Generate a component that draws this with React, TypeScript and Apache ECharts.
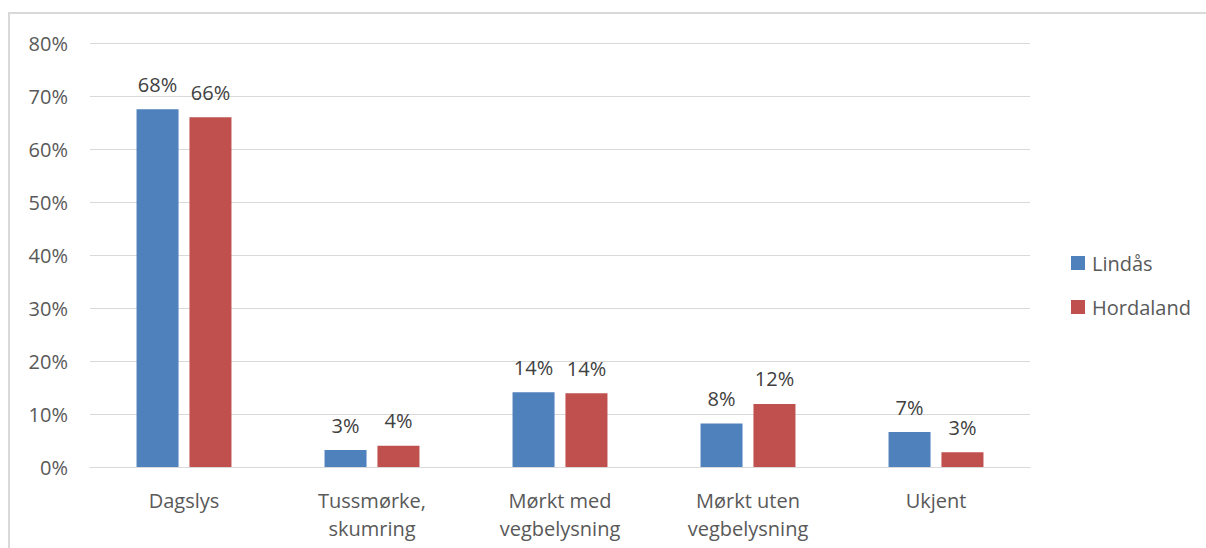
import React, { useEffect, useRef } from "react";
import * as echarts from "echarts";

const categories = ["Dagslys", "Tussmørke,\nskumring", "Mørkt med\nvegbelysning", "Mørkt uten\nvegbelysning", "Ukjent"];
const lindas = [67.5, 3.2, 14.1, 8.2, 6.6];
const hordaland = [66.0, 4.0, 13.9, 11.9, 2.8];
const seriesNames = ["Lindås", "Hordaland"];

export default function App() {
  const ref = useRef<HTMLDivElement>(null);
  useEffect(() => {
    const chart = echarts.init(ref.current!, null, { renderer: "svg" });
    const font = "'Open Sans', 'Noto Sans', sans-serif";
    const label = {
      show: true,
      position: "top" as const,
      distance: 15,
      color: "#404040",
      fontSize: 20,
      fontFamily: font,
      formatter: (p: any) => Math.round(p.value) + "%",
    };
    chart.setOption({
      animation: false,
      backgroundColor: "#ffffff",
      graphic: [
        {
          type: "rect",
          shape: { x: 9, y: 13, width: 1400, height: 800 },
          style: { fill: "none", stroke: "#d9d9d9", lineWidth: 2 },
          silent: true,
        },
      ],
      legend: {
        orient: "vertical",
        left: 1066,
        top: 248,
        itemWidth: 14,
        itemHeight: 14,
        itemGap: 24,
        icon: "rect",
        textStyle: { color: "#595959", fontSize: 20, fontFamily: font, padding: [0, 0, 0, 2] },
        data: seriesNames,
      },
      grid: { left: 90, right: 176, top: 43, bottom: 81, containLabel: false },
      xAxis: {
        type: "category",
        data: categories,
        axisLine: { lineStyle: { color: "#d9d9d9", width: 1 } },
        axisTick: { show: false },
        axisLabel: { color: "#595959", fontSize: 20, fontFamily: font, margin: 19, lineHeight: 28, interval: 0 },
      },
      yAxis: {
        type: "value",
        min: 0,
        max: 80,
        interval: 10,
        axisLine: { show: false },
        axisTick: { show: false },
        splitLine: { lineStyle: { color: "#d9d9d9", width: 1 } },
        axisLabel: { color: "#595959", fontSize: 20, fontFamily: font, margin: 22, formatter: "{value}%" },
      },
      series: [
        {
          name: seriesNames[0],
          type: "bar",
          data: lindas,
          barWidth: 42,
          barGap: "26%",
          itemStyle: { color: "#4F81BD" },
          label,
        },
        {
          name: seriesNames[1],
          type: "bar",
          data: hordaland,
          barWidth: 42,
          itemStyle: { color: "#C0504D" },
          label,
        },
      ],
    });
    return () => chart.dispose();
  }, []);
  return <div ref={ref} style={{ position: "absolute", left: 0, top: 0, width: 1206, height: 548 }} />;
}
